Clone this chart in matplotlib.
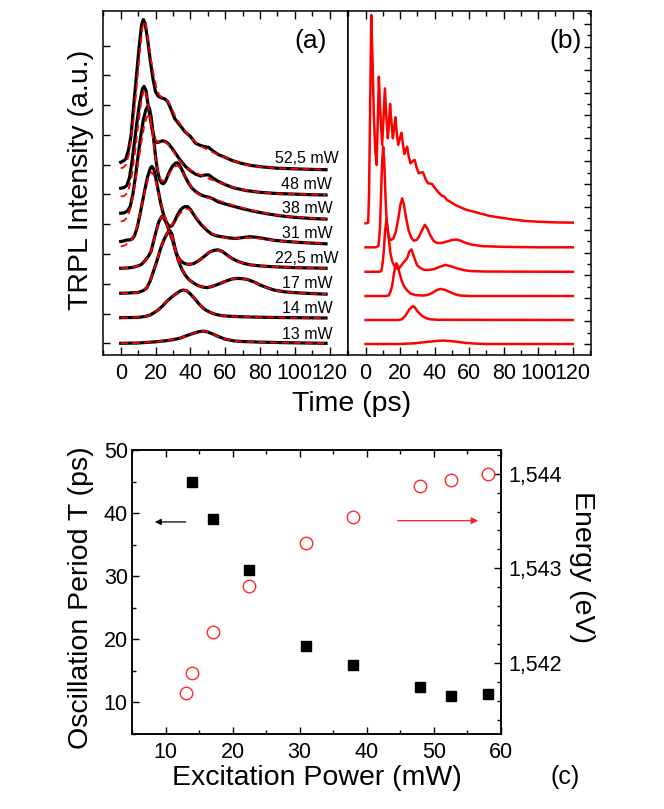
import matplotlib
matplotlib.use("Agg")
import matplotlib.pyplot as plt
from matplotlib.ticker import MultipleLocator, FuncFormatter, NullFormatter

plt.rcParams['font.family'] = ['Liberation Sans', 'DejaVu Sans']

# ---------------- Panel (a): experimental (black) and fit (red dashed) ----------------
labels_a = ["52,5 mW", "48 mW", "38 mW", "31 mW", "22,5 mW", "17 mW", "14 mW", "13 mW"]
label_y_a = [6.22, 5.32, 4.54, 3.70, 2.86, 2.02, 1.18, 0.28]

t_52 = [0, 2, 3, 4.5, 6, 7.5, 9, 10.5, 12, 13, 14, 15.5, 17, 18.5, 20, 21.5, 23, 25, 27, 29, 31, 33, 35, 37, 40,
        43, 46, 48.5, 50.5, 53, 56, 59, 64, 69, 75, 82, 90, 100, 110, 118]
exp_52 = [6.08, 6.14, 6.2, 6.5, 7.0, 8.0, 8.95, 9.9, 10.7, 10.87, 10.75, 10.2, 9.5, 8.9, 8.45, 8.3, 8.25, 8.22, 8.12,
          7.85, 7.55, 7.4, 7.25, 7.1, 6.95, 6.72, 6.64, 6.6, 6.58, 6.46, 6.34, 6.27, 6.14, 6.05, 5.97, 5.92, 5.88,
          5.86, 5.84, 5.83]
tf_52 = [0, 1.5, 3, 5, 7, 9, 11, 12.5, 13.5, 14.5, 16, 17.5, 19, 20.5, 22, 24, 26, 28, 30, 32, 35, 38, 42, 46, 50,
         55, 60, 66, 72, 80, 90, 100, 118]
fit_52 = [5.88, 5.9, 6.0, 6.4, 7.3, 8.5, 9.8, 10.6, 10.8, 10.7, 10.1, 9.5, 9.0, 8.6, 8.35, 8.25, 8.2, 8.05, 7.8, 7.55,
          7.3, 7.05, 6.8, 6.62, 6.5, 6.36, 6.24, 6.1, 6.0, 5.93, 5.88, 5.86, 5.83]

t_48 = [0, 2, 3.5, 5, 6.5, 8, 9.5, 11, 12.5, 13.4, 14.5, 15.5, 16.7, 18, 19.6, 21, 22.5, 24, 25.5, 27.5, 29.5, 31.5,
        34, 37, 40, 43, 46, 48.5, 50.5, 53, 56, 60, 65, 72, 80, 90, 100, 110, 118]
exp_48 = [5.21, 5.23, 5.3, 5.55, 6.1, 6.8, 7.5, 8.1, 8.55, 8.63, 8.5, 8.1, 7.67, 7.2, 6.83, 6.74, 6.77, 6.8, 6.78,
          6.7, 6.55, 6.38, 6.17, 5.95, 5.8, 5.68, 5.62, 5.65, 5.66, 5.55, 5.44, 5.33, 5.22, 5.13, 5.07, 5.03, 5.01,
          4.99, 4.98]
tf_48 = [0, 2, 4, 6, 8, 10, 12, 13.5, 15, 16.5, 18, 19.5, 21, 23, 25, 27, 29, 31, 34, 37, 40, 44, 48, 52, 56, 60,
         66, 72, 80, 90, 118]
fit_48 = [4.93, 4.95, 5.05, 5.5, 6.3, 7.3, 8.2, 8.55, 8.3, 7.75, 7.25, 6.9, 6.75, 6.75, 6.78, 6.7, 6.55, 6.38, 6.12,
          5.93, 5.82, 5.7, 5.6, 5.5, 5.42, 5.34, 5.22, 5.14, 5.07, 5.03, 4.98]

t_38 = [0, 2, 4, 5.5, 7, 8.5, 10, 11.5, 13, 14.5, 15.5, 16.5, 17.5, 18.5, 19.5, 20.5, 21.5, 22.5, 23.5, 24.6, 25.8,
        27, 28.5, 30, 31.5, 32.5, 33.5, 35, 37, 39, 41, 43, 45, 47, 49, 51, 53, 56, 60, 65, 70, 76, 84, 92, 100,
        110, 118]
exp_38 = [4.37, 4.38, 4.45, 4.6, 5.0, 5.6, 6.3, 6.95, 7.5, 7.85, 7.95, 7.9, 7.6, 7.1, 6.55, 6.05, 5.7, 5.48, 5.38,
          5.36, 5.45, 5.62, 5.82, 5.97, 6.05, 6.06, 6.02, 5.85, 5.6, 5.38, 5.21, 5.1, 5.02, 4.96, 4.93, 4.9, 4.85,
          4.75, 4.68, 4.6, 4.52, 4.44, 4.35, 4.28, 4.23, 4.19, 4.17]
tf_38 = [0, 2, 4, 6, 8, 10, 12, 13.5, 15, 16, 17, 18, 19, 20, 21, 22, 23, 24, 25.5, 27, 28.5, 30, 31.5, 33, 34.5,
         36, 38, 40, 42, 45, 48, 52, 56, 60, 65, 70, 76, 84, 92, 100, 110, 118]
fit_38 = [4.09, 4.12, 4.25, 4.6, 5.25, 6.05, 6.8, 7.3, 7.6, 7.65, 7.5, 7.15, 6.7, 6.25, 5.9, 5.65, 5.5, 5.45, 5.48,
          5.6, 5.75, 5.88, 5.95, 5.95, 5.87, 5.72, 5.5, 5.3, 5.15, 5.0, 4.92, 4.86, 4.8, 4.72, 4.63, 4.55, 4.46,
          4.36, 4.29, 4.24, 4.2, 4.18]

t_31 = [0, 2, 3.5, 5, 6.5, 8, 9.5, 11, 12.5, 14, 15.5, 17, 17.9, 19, 20, 21.5, 23, 24.5, 26, 27.5, 28.4, 29.5, 31,
        32.5, 34, 35.5, 37, 38.5, 40, 42, 44, 46, 48, 50, 52.5, 55, 58, 62, 66, 70, 74, 78, 82, 88, 95, 105, 118]
exp_31 = [3.42, 3.44, 3.47, 3.47, 3.5, 3.62, 3.9, 4.3, 4.75, 5.2, 5.6, 5.88, 5.94, 5.85, 5.6, 5.15, 4.7, 4.35, 4.1,
          3.95, 3.92, 3.95, 4.1, 4.3, 4.45, 4.55, 4.59, 4.59, 4.5, 4.32, 4.15, 4.0, 3.88, 3.77, 3.66, 3.61, 3.58,
          3.54, 3.52, 3.55, 3.58, 3.56, 3.52, 3.46, 3.42, 3.38, 3.34]
tf_31 = [0, 2, 4, 6, 8, 10, 12, 14, 16, 17.5, 19, 20.5, 22, 23.5, 25, 26.5, 28, 29.5, 31, 32.5, 34, 36, 38, 40, 42,
         44, 46, 48, 50, 53, 56, 60, 65, 70, 75, 80, 86, 95, 105, 118]
fit_31 = [3.25, 3.28, 3.35, 3.45, 3.65, 4.05, 4.6, 5.15, 5.6, 5.75, 5.65, 5.35, 4.95, 4.6, 4.3, 4.1, 3.98, 3.98,
          4.08, 4.22, 4.35, 4.47, 4.52, 4.48, 4.36, 4.2, 4.05, 3.92, 3.8, 3.68, 3.6, 3.55, 3.52, 3.53, 3.54, 3.52,
          3.47, 3.42, 3.38, 3.35]

t_22 = [0, 4, 7, 10, 12, 14, 16, 17.5, 19, 20.5, 22, 23.6, 25, 26.5, 28, 30, 32, 34, 36, 38, 39.7, 42, 45, 48, 51,
        53.5, 56, 58.5, 61, 64, 67, 71, 75, 80, 88, 100, 110, 118]
exp_22 = [2.52, 2.53, 2.55, 2.6, 2.65, 2.78, 2.93, 3.1, 3.45, 3.8, 4.1, 4.26, 4.18, 4.0, 3.75, 3.42, 3.0, 2.8, 2.7,
          2.66, 2.65, 2.68, 2.78, 2.92, 3.06, 3.12, 3.14, 3.08, 2.97, 2.85, 2.76, 2.68, 2.63, 2.6, 2.57, 2.54,
          2.53, 2.52]

t_17 = [0, 5, 10, 13, 15, 17, 19, 21, 23, 25, 27, 28.3, 29.5, 31, 33, 35, 37, 39, 41.5, 44, 47, 49.5, 52, 55, 58,
        61, 64, 67, 70, 73, 77, 80, 84, 88, 94, 100, 110, 118]
exp_17 = [1.68, 1.69, 1.71, 1.77, 1.86, 2.1, 2.45, 2.8, 3.2, 3.5, 3.72, 3.78, 3.65, 3.25, 2.8, 2.5, 2.3, 2.15, 2.04,
          1.95, 1.89, 1.87, 1.9, 1.96, 2.03, 2.1, 2.16, 2.18, 2.17, 2.14, 2.05, 1.96, 1.87, 1.79, 1.73, 1.7, 1.67,
          1.65]

t_14 = [0, 10, 14, 17, 19.5, 21.5, 24, 26.5, 29, 31.5, 34, 36, 38, 40, 42.5, 45, 48, 51, 54, 58, 62, 70, 85, 100,
        118]
exp_14 = [0.86, 0.87, 0.9, 0.95, 1.04, 1.12, 1.25, 1.41, 1.54, 1.65, 1.75, 1.79, 1.76, 1.66, 1.5, 1.32, 1.15, 1.05,
          0.98, 0.93, 0.91, 0.89, 0.87, 0.86, 0.85]

t_13 = [0, 10, 20, 25, 30, 34, 38, 42, 45, 47.5, 50, 53, 56, 60, 65, 70, 80, 95, 118]
exp_13 = [0.0, 0.01, 0.05, 0.08, 0.12, 0.17, 0.26, 0.34, 0.39, 0.41, 0.38, 0.31, 0.23, 0.14, 0.08, 0.06, 0.04,
          0.02, 0.0]

# ---------------- Panel (b): simulations (red) ----------------
tb_1 = [0, 1.5, 2.0, 2.6, 3.3, 4.0, 4.8, 5.6, 6.4, 7.0, 7.7, 8.5, 9.6, 10.4, 11.2, 12.0, 12.9, 13.5, 14.2, 15.0,
        15.8, 16.5, 17.3, 18.1, 18.9, 19.9, 20.8, 21.7, 22.5, 23.3, 24.1, 25.0, 26.0, 27.2, 28.5, 29.6, 30.8, 32,
        33.3, 34.8, 36.2, 37.4, 38.5, 40.4, 42.4, 44, 45.5, 47.2, 49.5, 52, 55, 58, 62, 66, 72, 78, 85, 93, 100,
        110, 120]
sim_1 = [5.28, 5.3, 6.5, 10.0, 14.39, 12.5, 10.0, 8.5, 7.83, 9.5, 11.69, 10.2, 8.71, 9.9, 11.18, 10.0, 9.0, 9.6,
         10.5, 9.7, 9.0, 9.4, 9.92, 9.2, 8.71, 9.0, 9.24, 8.7, 8.31, 8.5, 8.63, 8.2, 7.9, 8.0, 8.05, 7.7, 7.47, 7.5,
         7.51, 7.2, 7.03, 7.02, 7.0, 6.8, 6.62, 6.5, 6.45, 6.3, 6.2, 6.08, 5.98, 5.88, 5.8, 5.72, 5.6, 5.53, 5.45,
         5.38, 5.35, 5.32, 5.31]
tb_2 = [0, 6, 7.5, 8.3, 9.0, 9.6, 10.2, 10.8, 11.5, 12.3, 13.3, 14.5, 16, 17.5, 19, 20.2, 21.2, 22.2, 23.5, 25,
        26.5, 27.9, 29.5, 31, 32.5, 34.3, 35.8, 37.5, 39.5, 41.4, 44, 47, 50, 52.6, 55, 58, 62, 68, 80, 100, 120]
sim_2 = [4.23, 4.23, 4.3, 5.0, 6.6, 8.0, 8.63, 8.0, 6.5, 5.3, 4.7, 4.55, 4.6, 4.9, 5.5, 6.1, 6.37, 6.1, 5.5, 4.95,
         4.65, 4.52, 4.55, 4.7, 4.95, 5.21, 5.05, 4.75, 4.5, 4.42, 4.42, 4.48, 4.55, 4.57, 4.52, 4.42, 4.34, 4.28,
         4.25, 4.23, 4.23]
tb_3 = [0, 8, 9.2, 10.0, 10.6, 11.2, 12.1, 13.1, 14.4, 15.5, 16.4, 18, 19.3, 20.8, 22.3, 24.1, 25.4, 26.6, 27.9,
        29.8, 31.8, 33.7, 36, 39.5, 43, 46.2, 49.5, 53, 57, 61, 70, 120]
sim_3 = [3.16, 3.16, 3.2, 3.6, 4.11, 4.84, 5.5, 4.84, 3.97, 3.6, 3.46, 3.3, 3.3, 3.45, 3.6, 3.75, 4.05, 4.14, 3.85,
         3.45, 3.32, 3.25, 3.24, 3.27, 3.38, 3.46, 3.4, 3.31, 3.23, 3.19, 3.17, 3.16]
tb_4 = [0, 12, 13.5, 14.5, 15.4, 16.4, 17.3, 17.9, 18.7, 19.8, 21, 22.1, 24, 26, 29, 33.7, 36, 38.5, 41, 43.3, 46,
        49, 52, 55, 60, 120]
sim_4 = [2.10, 2.10, 2.13, 2.3, 2.55, 3.06, 3.45, 3.53, 3.4, 3.06, 2.75, 2.55, 2.35, 2.21, 2.14, 2.12, 2.15, 2.23,
         2.35, 2.41, 2.37, 2.27, 2.17, 2.12, 2.10, 2.10]
tb_5 = [0, 19, 21, 23.1, 25.2, 27.3, 28.6, 29.8, 31.3, 32.7, 35, 37.5, 42, 120]
sim_5 = [1.05, 1.05, 1.08, 1.24, 1.5, 1.66, 1.6, 1.46, 1.33, 1.23, 1.13, 1.08, 1.06, 1.05]
tb_6 = [0, 20, 28, 33, 38, 42, 45.3, 49, 53, 58, 63, 70, 120]
sim_6 = [0.0, 0.0, 0.03, 0.07, 0.11, 0.14, 0.15, 0.13, 0.10, 0.05, 0.02, 0.0, 0.0]

# ---------------- Panel (c) ----------------
power_T = [14, 17, 22.5, 31, 38, 48, 52.5, 58]
period_T = [45, 39, 31, 19, 16, 12.5, 11, 11.4]
power_E = [13, 14, 17, 22.5, 31, 38, 48, 52.5, 58]
energy_E = [1.54168, 1.54189, 1.54233, 1.54281, 1.54327, 1.54354, 1.54387, 1.54393, 1.54400]
arrow_black = [(13.0, 38.6), (8.4, 38.6)]
arrow_red = [(44.6, 38.8), (56.6, 38.8)]

W, H = 664, 809
fig = plt.figure(figsize=(W / 100, H / 100), dpi=100)

def frac(l, t, r, b):
    return [l / W, 1 - b / H, (r - l) / W, (b - t) / H]

ax_a = fig.add_axes(frac(103.3, 10.7, 348.3, 355))
ax_b = fig.add_axes(frac(348.3, 10.7, 590.7, 355))
ax_c = fig.add_axes(frac(132, 450, 501, 734))

tick_fs = 15.5
lab_fs = 20.5

# --- (a)
exp_sets = [(t_52, exp_52, tf_52, fit_52), (t_48, exp_48, tf_48, fit_48), (t_38, exp_38, tf_38, fit_38),
            (t_31, exp_31, tf_31, fit_31), (t_22, exp_22, t_22, exp_22), (t_17, exp_17, t_17, exp_17),
            (t_14, exp_14, t_14, exp_14), (t_13, exp_13, t_13, exp_13)]
for te, ye, tf, yf in exp_sets:
    ax_a.plot(te, ye, color='black', lw=2.3, solid_joinstyle='round', zorder=2)
    ax_a.plot(tf, yf, color='red', lw=1.3, ls=(0, (4, 2.5)), zorder=3)
for lab, ly in zip(labels_a, label_y_a):
    ax_a.text(107, ly, lab, ha='center', va='center', fontsize=11.5)
ax_a.text(109, 10.16, "(a)", ha='center', va='center', fontsize=19)
ax_a.set_xlim(-10, 130.8)
ax_a.set_ylim(-0.393, 11.17)
ax_a.xaxis.set_major_locator(MultipleLocator(20))
ax_a.xaxis.set_minor_locator(MultipleLocator(10))
ax_a.set_yticks(range(0, 11))
ax_a.yaxis.set_major_formatter(NullFormatter())
ax_a.tick_params(axis='x', which='major', direction='in', length=6, width=1, top=True, labelsize=tick_fs, pad=6)
ax_a.tick_params(axis='x', which='minor', direction='in', length=3.5, width=1, top=True)
ax_a.tick_params(axis='y', which='major', direction='in', length=5, width=1, left=True, right=False)

# --- (b)
for tb, sb in [(tb_1, sim_1), (tb_2, sim_2), (tb_3, sim_3), (tb_4, sim_4), (tb_5, sim_5), (tb_6, sim_6)]:
    ax_b.plot(tb, sb, color='red', lw=1.8, solid_joinstyle='round')
ax_b.text(116, 13.25, "(b)", ha='center', va='center', fontsize=19)
ax_b.set_xlim(-10, 130.4)
ax_b.set_ylim(-0.48, 14.58)
ax_b.xaxis.set_major_locator(MultipleLocator(20))
ax_b.xaxis.set_minor_locator(MultipleLocator(10))
ax_b.yaxis.set_major_locator(MultipleLocator(1))
ax_b.yaxis.set_minor_locator(MultipleLocator(0.5))
ax_b.yaxis.set_major_formatter(NullFormatter())
ax_b.tick_params(axis='x', which='major', direction='in', length=6, width=1, top=True, labelsize=tick_fs, pad=6)
ax_b.tick_params(axis='x', which='minor', direction='in', length=3.5, width=1, top=True)
ax_b.tick_params(axis='y', which='major', direction='in', length=5, width=1, left=False, right=True)
ax_b.tick_params(axis='y', which='minor', direction='in', length=3, width=1, left=False, right=True)

for a in (ax_a, ax_b, ax_c):
    for s in a.spines.values():
        s.set_linewidth(1.1)

fig.text(81 / W, 1 - 180 / H, "TRPL Intensity (a.u.)", rotation=90, ha='center', va='center', fontsize=lab_fs)
fig.text(351.5 / W, 1 - 404 / H, "Time (ps)", ha='center', va='center', fontsize=lab_fs)

# --- (c)
ax_c.plot(power_T, period_T, ls='none', marker='s', ms=7, color='black', zorder=3)
ax_c.set_xlim(5, 60)
ax_c.set_ylim(5, 50)
ax_c.xaxis.set_major_locator(MultipleLocator(10))
ax_c.xaxis.set_minor_locator(MultipleLocator(5))
ax_c.yaxis.set_major_locator(MultipleLocator(10))
ax_c.yaxis.set_minor_locator(MultipleLocator(5))
ax_c.tick_params(which='major', direction='in', length=5, width=1, top=True, right=False, labelsize=tick_fs)
ax_c.tick_params(which='minor', direction='in', length=3, width=1, top=True, right=False)
ax_c.tick_params(axis='x', pad=6)
ax_c.tick_params(axis='y', pad=3)
ax_c.annotate('', xy=arrow_black[1], xytext=arrow_black[0],
              arrowprops=dict(arrowstyle='-|>', color='black', lw=0.9, mutation_scale=9, shrinkA=0, shrinkB=0))
ax_c.annotate('', xy=arrow_red[1], xytext=arrow_red[0],
              arrowprops=dict(arrowstyle='-|>', color='#ff2020', lw=0.9, mutation_scale=10, shrinkA=0, shrinkB=0))

ax_e = ax_c.twinx()
ax_e.plot(power_E, energy_E, ls='none', marker='o', ms=9, mfc='none', mec='#ff2a2a', mew=1.0, zorder=3)
ax_e.set_ylim(1.54125, 1.54425)
ax_e.yaxis.set_major_locator(MultipleLocator(0.001))
ax_e.yaxis.set_minor_locator(MultipleLocator(0.0002))
ax_e.yaxis.set_major_formatter(FuncFormatter(lambda v, p: f"{v:.3f}".replace('.', ',')))
ax_e.tick_params(which='major', direction='in', length=5, width=1, labelsize=tick_fs, pad=5)
ax_e.tick_params(which='minor', direction='in', length=3, width=1)
for s in ax_e.spines.values():
    s.set_linewidth(1.1)

fig.text(81 / W, 1 - 598 / H, "Oscillation Period T (ps)", rotation=90, ha='center', va='center', fontsize=lab_fs)
fig.text(316.5 / W, 1 - 778 / H, "Excitation Power (mW)", ha='center', va='center', fontsize=lab_fs)
fig.text(582 / W, 1 - 567 / H, "Energy (eV)", rotation=270, ha='center', va='center', fontsize=lab_fs)
fig.text(565 / W, 1 - 777 / H, "(c)", ha='center', va='center', fontsize=18)

fig.savefig("out.png", dpi=100)
